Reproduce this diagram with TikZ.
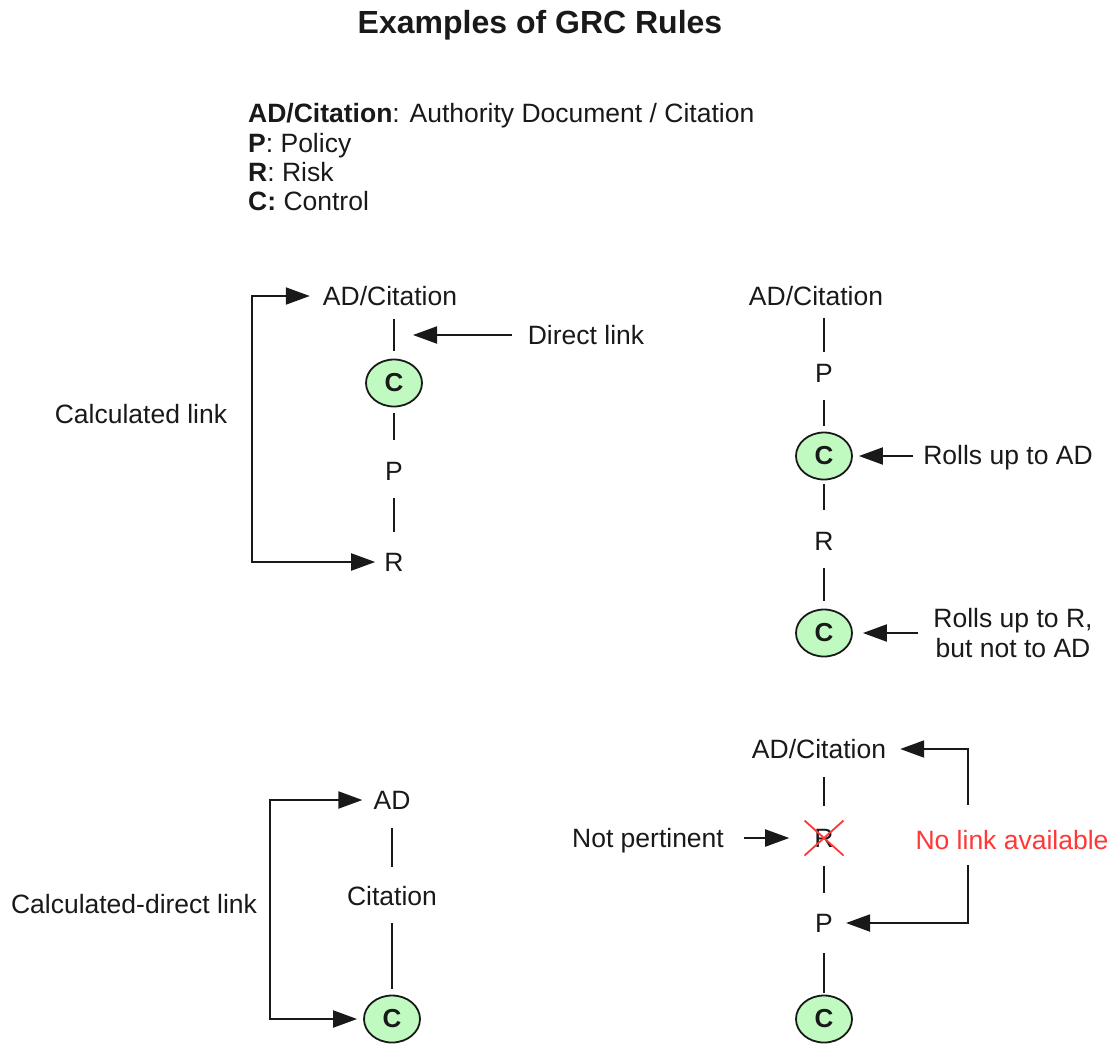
\documentclass[tikz,border=0pt]{standalone}
\usepackage{fontspec}
\setmainfont{Liberation Sans}
\usetikzlibrary{arrows.meta,shapes.geometric}
\definecolor{ink}{RGB}{25,25,25}
\definecolor{ctrlfill}{RGB}{192,250,192}
\definecolor{alert}{RGB}{255,55,55}

\begin{document}
\begin{tikzpicture}[x=1pt,y=-1pt,
  every node/.style={font=\fontsize{26.5}{30}\selectfont, text=ink, inner sep=0pt},
  txt/.style={text height=18.8pt, text depth=0pt},
  ctrl/.style={ellipse, draw=ink, line width=1.8pt, fill=ctrlfill,
    minimum width=56pt, minimum height=47pt,
    font=\fontsize{26}{30}\selectfont\bfseries},
  link/.style={draw=ink, line width=2pt},
  tip/.tip={Triangle[length=24pt,width=17pt]},
  arr/.style={link, -tip},
  arrtwo/.style={link, tip-tip},
]
\useasboundingbox (0,0) rectangle (1113,1045);

% title and legend
\node[font=\fontsize{32}{38}\selectfont\bfseries, text height=23pt, text depth=0pt]
  (title) at (540,22) {Examples of GRC Rules};
\node[txt, anchor=west] (lg1) at (248,113) {\textbf{AD/Citation}: Authority Document / Citation};
\node[txt, anchor=west] (lg2) at (248,143) {\textbf{P}: Policy};
\node[txt, anchor=west] (lg3) at (248,172) {\textbf{R}: Risk};
\node[txt, anchor=west] (lg4) at (248,201) {\textbf{C:} Control};

% calculated link
\node[txt] (ad1) at (390,296) {AD/Citation};
\node[ctrl] (c1) at (394,383) {C};
\node[txt] (p1) at (394,471) {P};
\node[txt] (r1) at (394,562) {R};
\node[txt] (dl) at (586,335) {Direct link};
\coordinate (dlt) at (413,335);
\node[txt] (cl) at (141,414) {Calculated link};
\coordinate (clx) at (252,430);
\draw[link, shorten <=13pt, shorten >=7.5pt] (c1 |- ad1.south) -- (c1);
\draw[link, shorten <=5.5pt, shorten >=21.7pt] (c1) -- (p1);
\draw[link, shorten <=17pt, shorten >=20pt] (p1) -- (r1);
\draw[arr, shorten <=16pt] (dl) -- (dlt);
\draw[arrtwo, shorten <=13pt, shorten >=9pt] (ad1.west) -| (clx) |- (r1.west);

% roll-up chain
\node[txt] (ad2) at (816,296) {AD/Citation};
\node[txt] (p2) at (824,373) {P};
\node[ctrl] (c2) at (824,456) {C};
\node[txt] (r2) at (824,541) {R};
\node[ctrl] (c3) at (824,633) {C};
\node[txt] (ru1) at (1008,455) {Rolls up to AD};
\node[align=center] (ru2) at (1013,633) {Rolls up to R,\\but not to AD};
\draw[link, shorten <=12pt, shorten >=11.7pt] (p2 |- ad2.south) -- (p2);
\draw[link, shorten <=17.7pt, shorten >=5.5pt] (p2) -- (c2);
\draw[link, shorten <=3.5pt, shorten >=21.7pt] (c2) -- (r2);
\draw[link, shorten <=17.7pt, shorten >=7.5pt] (r2) -- (c3);
\draw[arr, shorten <=10pt, shorten >=6pt] (ru1.west |- c2) -- (c2.east);
\draw[arr, shorten <=15pt, shorten >=10pt] (ru2.west |- c3) -- (c3.east);

% calculated-direct link
\node[txt] (ad3) at (392,800) {AD};
\node[txt] (ci) at (392,896) {Citation};
\node[ctrl] (c4) at (392,1019) {C};
\node[txt] (cdl) at (134,904) {Calculated-direct link};
\coordinate (cdx) at (270,904);
\draw[link, shorten <=18.7pt, shorten >=19.7pt] (ad3) -- (ci);
\draw[link, shorten <=17.7pt, shorten >=5.5pt] (ci) -- (c4);
\draw[arrtwo, shorten <=11pt, shorten >=6pt] (ad3.west) -| (cdx) |- (c4.west);

% no link available
\node[txt] (ad4) at (819,749) {AD/Citation};
\node[txt] (rx) at (824,838) {R};
\node[txt] (p4) at (824,923) {P};
\node[ctrl] (c5) at (824,1019) {C};
\node[txt] (np) at (648,838) {Not pertinent};
\node[txt, text=alert] (nl) at (1012,840) {No link available};
\coordinate (nlt) at (968,805);
\coordinate (nlb) at (968,865);
\draw[link, shorten <=18.7pt, shorten >=22.7pt] (rx |- ad4.south) -- (rx);
\draw[link, shorten <=18.7pt, shorten >=20.7pt] (rx) -- (p4);
\draw[link, shorten <=20.7pt, shorten >=2pt] (p4) -- (c5);
\draw[arr, shorten <=20pt, shorten >=25pt] (np) -- (rx);
\draw[arr, shorten >=14pt] (nlt) |- (ad4.east);
\draw[arr, shorten >=13pt] (nlb) |- (p4.east);
% strike-through of the risk that is not pertinent
\draw[alert, line width=1.8pt]
  ([shift={(-19.5,-17.5)}]rx.center) -- ([shift={(19.5,17.5)}]rx.center)
  ([shift={(-19.5,17.5)}]rx.center) -- ([shift={(19.5,-17.5)}]rx.center);
\end{tikzpicture}
\end{document}
